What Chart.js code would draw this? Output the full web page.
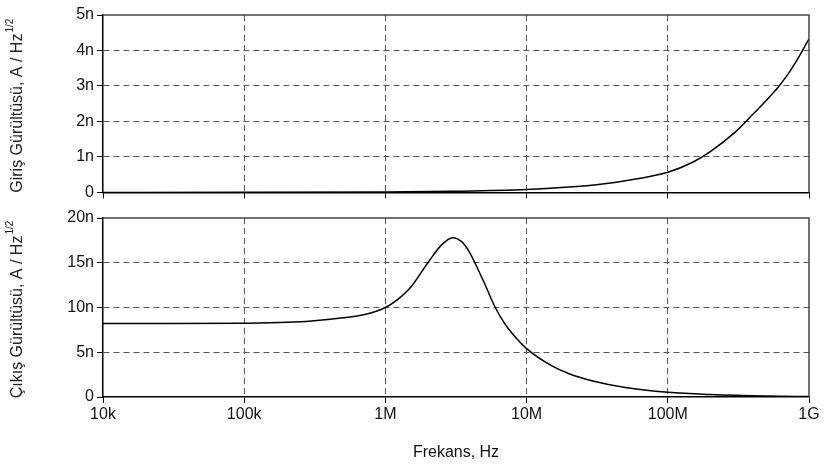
<!DOCTYPE html>
<html>
<head>
<meta charset="utf-8">
<script src="https://cdn.jsdelivr.net/npm/chart.js@4.4.0/dist/chart.umd.min.js"></script>
<style>
  body { margin: 0; background: #fff; width: 825px; height: 470px; overflow: hidden; position: relative; }
  canvas { position: absolute; left: 0; }
  #inputNoise { top: 0; }
  #outputNoise { top: 205px; }
</style>
</head>
<body>
<canvas id="inputNoise" width="825" height="205"></canvas>
<canvas id="outputNoise" width="825" height="265"></canvas>
<script>
// x axis (Hz)
const freqTicks = [1e4, 1e5, 1e6, 1e7, 1e8, 1e9];
const freqLabels = ['10k', '100k', '1M', '10M', '100M', '1G'];

// input noise, nA/Hz^1/2
const inFreq  = [1e4, 1e5, 1e6, 3e6, 1e7, 2e7, 3e7, 5e7, 1e8, 1.5e8, 2e8, 3e8, 4e8, 5e8, 6e8, 7e8, 8e8, 9e8, 1e9];
const inNoise = [0, 0.001, 0.01, 0.03, 0.08, 0.15, 0.21, 0.33, 0.57, 0.85, 1.15, 1.7, 2.2, 2.6, 2.95, 3.3, 3.65, 4.0, 4.33];
const inTicks = [0, 1, 2, 3, 4, 5];
const inLabels = ['0', '1n', '2n', '3n', '4n', '5n'];

// output noise, nA/Hz^1/2
const outFreq  = [1e4, 3e4, 1e5, 2e5, 3e5, 5e5, 7e5, 8.5e5, 1e6, 1.2e6, 1.5e6, 2e6, 2.5e6, 3e6, 3.5e6, 4e6, 4.3e6, 5e6, 6e6, 7e6, 8e6, 1e7, 1.5e7, 2e7, 3e7, 5e7, 1e8, 2e8, 5e8, 1e9];
const outNoise = [8.2, 8.2, 8.25, 8.35, 8.5, 8.85, 9.2, 9.55, 10.0, 10.8, 12.2, 15.0, 17.0, 17.8, 17.3, 16.0, 15.0, 12.8, 10.0, 8.2, 7.0, 5.4, 3.5, 2.6, 1.75, 1.05, 0.52, 0.27, 0.1, 0.05];
const outTicks = [0, 5, 10, 15, 20];
const outLabels = ['0', '5n', '10n', '15n', '20n'];

const FONT = 'Liberation Sans, Arial, sans-serif';

// rotated y title with superscript + frame around plot
const panelPlugin = {
  id: 'panel',
  afterDatasetsDraw(chart, args, opts) {
    const a = chart.chartArea;
    const c = chart.ctx;
    c.save();
    c.strokeStyle = '#444';
    c.lineWidth = 1.5;
    c.beginPath();
    c.moveTo(a.left, a.top);
    c.lineTo(a.right, a.top);
    c.lineTo(a.right, a.bottom);
    c.stroke();
    c.restore();
  },
  afterDraw(chart, args, opts) {
    const a = chart.chartArea;
    const c = chart.ctx;
    c.save();
    c.translate(opts.x, (a.top + a.bottom) / 2 + opts.dy);
    c.rotate(-Math.PI / 2);
    c.fillStyle = '#222';
    c.textBaseline = 'middle';
    c.font = '16px ' + FONT;
    const w1 = c.measureText(opts.text).width;
    c.font = '10px ' + FONT;
    const w2 = c.measureText('1/2').width;
    let x0 = -(w1 + w2 + 1) / 2;
    c.font = '16px ' + FONT;
    c.fillText(opts.text, x0, 0);
    c.font = '10px ' + FONT;
    c.fillText('1/2', x0 + w1 + 1, -8);
    c.restore();
  }
};

// hide the grid lines that sit on the frame
const gridColor = ctx => (ctx.index === 0 || ctx.index === ctx.scale.ticks.length - 1) ? 'rgba(0,0,0,0)' : '#555';

function noiseChart(el, freqs, vals, yTicks, yLabels, yMax, showX, title, pad, xHeight) {
  return new Chart(document.getElementById(el), {
    type: 'line',
    data: {
      datasets: [{
        data: freqs.map((f, i) => ({ x: f, y: vals[i] })),
        borderColor: '#000',
        borderWidth: 1.5,
        pointRadius: 0,
        cubicInterpolationMode: 'monotone',
        fill: false
      }]
    },
    options: {
      responsive: false,
      animation: false,
      layout: { padding: pad },
      plugins: {
        legend: { display: false },
        tooltip: { enabled: false },
        panel: { text: title, x: 18, dy: 2 }
      },
      scales: {
        x: {
          type: 'logarithmic',
          min: 1e4,
          max: 1e9,
          afterBuildTicks: s => { s.ticks = freqTicks.map(v => ({ value: v })); },
          afterFit: s => { s.height = xHeight; },
          grid: { color: gridColor, lineWidth: 1, tickLength: 6, tickColor: '#000' },
          border: { color: '#000', width: 1.5, dash: [6, 4] },
          ticks: {
            display: showX,
            maxRotation: 0,
            autoSkip: false,
            padding: 2,
            color: '#111',
            font: { family: FONT, size: 16 },
            callback: (v, i) => freqLabels[i]
          },
          title: {
            display: showX,
            text: 'Frekans, Hz',
            color: '#111',
            font: { family: FONT, size: 16 },
            padding: { top: 0, bottom: 8 }
          }
        },
        y: {
          min: 0,
          max: yMax,
          afterBuildTicks: s => { s.ticks = yTicks.map(v => ({ value: v })); },
          afterFit: s => { s.width = 103; },
          grid: { color: gridColor, lineWidth: 1, tickLength: 6, tickColor: '#000' },
          border: { color: '#000', width: 1.5, dash: [6, 4] },
          ticks: {
            padding: 3,
            color: '#111',
            font: { family: FONT, size: 16 },
            callback: (v, i) => yLabels[i]
          }
        }
      }
    },
    plugins: [panelPlugin]
  });
}

noiseChart('inputNoise', inFreq, inNoise, inTicks, inLabels, 5, false,
  'Giriş Gürültüsü, A / Hz', { top: 15, right: 16, left: 0, bottom: 0 }, 11);
noiseChart('outputNoise', outFreq, outNoise, outTicks, outLabels, 20, true,
  'Çıkış Gürültüsü, A / Hz', { top: 13, right: 16, left: 0, bottom: 0 }, 73);
</script>
</body>
</html>
